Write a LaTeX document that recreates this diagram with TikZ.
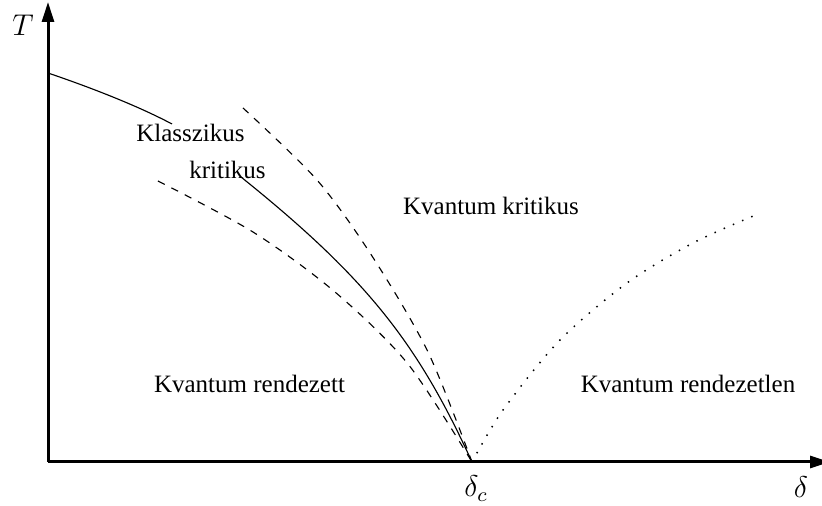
\documentclass[tikz,border=0pt]{standalone}
\usepackage{fontspec}
\setmainfont{Liberation Serif}
\usetikzlibrary{arrows.meta}

\begin{document}
\begin{tikzpicture}[x=0.4pt,y=-0.4pt,
  axis/.style={line width=1.2pt,-{Triangle[length=8pt,width=4.8pt]}},
  region/.style={anchor=base,font=\fontsize{10}{12}\selectfont},
  sym/.style={anchor=base,font=\fontsize{11.7}{14}\selectfont},
  crit/.style={line width=0.45pt},
  cross/.style={line width=0.45pt,dashed},
  dis/.style={line width=0.6pt,dash pattern=on 0.6pt off 3.4pt}]
\useasboundingbox (0,0) rectangle (822,506);
\coordinate (O) at (48,462);
\coordinate (dc) at (472,462);
\coordinate (Ttop) at (48,2);
\coordinate (dend) at (830,462);
% axes
\draw[axis] (O) -- (Ttop);
\draw[axis] (O) -- (dend);
\node[sym] (Tlab) at (23,36) {$T$};
\node[sym] (dclab) at (476,497) {$\delta_c$};
\node[sym] (dlab) at (801,498) {$\delta$};
% classical critical line, broken by its label
\draw[crit] (48,73) .. controls (95,89) and (140,107) .. (172,124);
\draw[crit] (241,177) .. controls (368,279) and (418,344) .. (dc);
% crossover lines
\draw[cross] plot[smooth] coordinates {(243,108) (317,180) (372,256) (428,352) (472,462)};
\draw[cross] plot[smooth] coordinates {(158,181) (253,232) (335,292) (408,364) (472,462)};
\draw[dis] plot[smooth] coordinates {(472,462) (503,410) (560,340) (627,283)
  (693,243) (758,214)};
% regions
\node[region] (klass) at (190.5,141.7) {Klasszikus};
\node[region] (krit) at (227.5,178.3) {kritikus};
\node[region] (kvkrit) at (491,214.3) {Kvantum kritikus};
\node[region] (kvrend) at (249.5,392.3) {Kvantum rendezett};
\node[region] (kvrendlen) at (688,392.3) {Kvantum rendezetlen};
\end{tikzpicture}
\end{document}
